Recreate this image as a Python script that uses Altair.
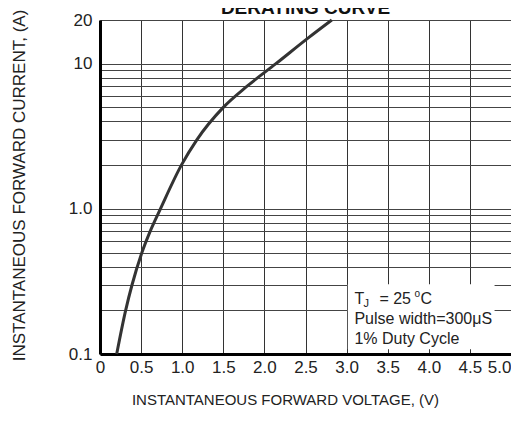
import altair as alt
import pandas as pd

# Forward characteristic (at the grid crossings)
voltage = [0.203, 0.312, 0.39, 0.51, 0.61, 0.735, 0.99, 1.18, 1.50, 1.79, 2.14, 2.53, 2.82]
current = [0.1, 0.2, 0.3, 0.5, 0.7, 1.0, 2.0, 3.0, 5.0, 7.0, 10.0, 15.0, 20.0]

x_ticks = [0, 0.5, 1.0, 1.5, 2.0, 2.5, 3.0, 3.5, 4.0, 4.5, 5.0]
y_grid = [0.1, 0.2, 0.3, 0.4, 0.5, 0.6, 0.7, 0.8, 0.9,
          1, 2, 3, 4, 5, 6, 7, 8, 9, 10, 20]

# note box (data coordinates)
box_x = [3.015]
box_x2 = [4.8]
box_y = [0.108]
box_y2 = [0.302]

note_x = [3.095]
note_lines = ["Pulse width=300\u03bcS", "1% Duty Cycle"]
note_line_y = [0.175, 0.127]
tj_y = [0.238]

FONT = "'Liberation Sans Narrow', 'Liberation Sans', Arial, sans-serif"
FONT_REG = "'Liberation Sans', Arial, sans-serif"

curve_df = pd.DataFrame({"V": voltage, "I": current})
box_df = pd.DataFrame({"x": box_x, "x2": box_x2, "y": box_y, "y2": box_y2})
note_df = pd.DataFrame({"x": note_x * len(note_lines), "y": note_line_y, "t": note_lines})
tj_df = pd.DataFrame({"x": note_x, "y": tj_y})

xscale = alt.Scale(domain=[0, 5], nice=False, zero=False)
yscale = alt.Scale(type="log", domain=[0.1, 20], nice=False)

label_expr_y = ("datum.value == 0.1 ? '0.1' : datum.value == 1 ? '1.0' : "
                "datum.value == 10 ? '10' : datum.value == 20 ? '20' : ''")
label_expr_x = "datum.value == 0 ? '0' : format(datum.value, '.1f')"

x_enc = alt.X("V:Q", scale=xscale,
              axis=alt.Axis(values=x_ticks, labelExpr=label_expr_x, grid=True,
                            gridColor="#333", gridWidth=1, gridOpacity=1,
                            domainColor="#000", domainWidth=3, ticks=False,
                            labelFont=FONT, labelFontSize=17, labelColor="#222",
                            labelPadding=5, labelFlush=False,
                            labelAlign=alt.condition("datum.value >= 5", alt.value("right"),
                                                     alt.value("center")),
                            title="INSTANTANEOUS FORWARD VOLTAGE, (V)",
                            titleFont=FONT_REG, titleFontSize=15, titleFontWeight="normal",
                            titleColor="#222", titleX=185, titleY=50,
                            titleBaseline="alphabetic", titleAnchor="start", titleAlign="center"))
y_enc = alt.Y("I:Q", scale=yscale,
              axis=alt.Axis(values=y_grid, labelExpr=label_expr_y, grid=True,
                            gridColor="#444", gridWidth=1, gridOpacity=1,
                            domainColor="#000", domainWidth=3, ticks=False,
                            labelFont=FONT, labelFontSize=17, labelColor="#222",
                            labelPadding=8, labelFlush=False,
                            title="INSTANTANEOUS FORWARD CURRENT, (A)",
                            titleFont=FONT_REG, titleFontSize=17, titleFontWeight="normal",
                            titleColor="#222", titleX=-81, titleY=165,
                            titleBaseline="middle", titleAnchor="start", titleAlign="center"))

curve = alt.Chart(curve_df).mark_line(color="#333", strokeWidth=3, interpolate="monotone").encode(
    x=x_enc, y=y_enc)

box = alt.Chart(box_df).mark_rect(color="white").encode(
    x=alt.X("x:Q", scale=xscale), x2="x2:Q",
    y=alt.Y("y:Q", scale=yscale), y2="y2:Q")

notes = alt.Chart(note_df).mark_text(align="left", baseline="middle", font=FONT_REG,
                                     fontSize=16, color="#222").encode(
    x=alt.X("x:Q", scale=xscale), y=alt.Y("y:Q", scale=yscale), text="t:N")

def tj_part(text, size, dx, dy=0):
    return alt.Chart(tj_df).mark_text(align="left", baseline="middle", font=FONT_REG,
                                      fontSize=size, color="#222", text=text,
                                      dx=dx, dy=dy).encode(
        x=alt.X("x:Q", scale=xscale), y=alt.Y("y:Q", scale=yscale))

tj_layers = [tj_part("T", 16, 0), tj_part("J", 11, 9, 5), tj_part("= 25", 16, 25),
             tj_part("o", 10, 60, -5), tj_part("C", 16, 66)]

chart = alt.layer(curve, box, notes, *tj_layers).properties(
    width=411, height=334,
    title=alt.TitleParams("DERATING CURVE", font=FONT_REG, fontSize=19, fontWeight="bold",
                          color="#111", anchor="middle", offset=4, dy=13),
    autosize=alt.AutoSizeParams(type="none"),
    padding={"left": 92, "top": 12, "right": 0, "bottom": 55},
).configure_view(stroke="#999", strokeWidth=2).configure(background="white")

chart.save("out.html", embed_options={"renderer": "svg", "actions": False})
